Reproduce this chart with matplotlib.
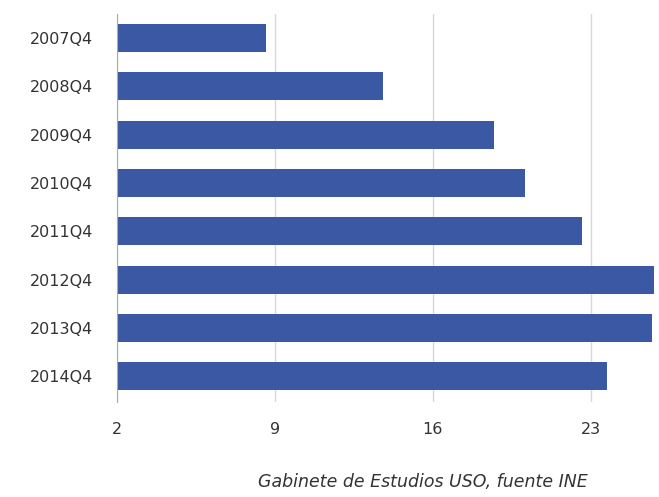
import matplotlib
matplotlib.use("Agg")
import matplotlib.pyplot as plt

# Tasa de paro, cuarto trimestre de cada año
periods = ["2007Q4", "2008Q4", "2009Q4", "2010Q4", "2011Q4", "2012Q4", "2013Q4", "2014Q4"]
rates = [8.6, 13.8, 18.7, 20.1, 22.6, 25.8, 25.7, 23.7]
x_ticks = [2, 9, 16, 23]

fig = plt.figure(figsize=(6.59, 4.97), dpi=100)
ax = fig.add_axes([0.1775, 0.191, 0.8165, 0.781])

ypos = list(range(len(periods)))
ax.barh(ypos, [r - 2 for r in rates], left=2, height=0.58, color="#3a58a4")

ax.set_xlim(2, 25.85)
ax.set_ylim(len(periods) - 0.5 + 0.03, -0.5)
ax.set_yticks(ypos)
ax.set_yticklabels(periods)
ax.set_xticks(x_ticks)
ax.set_xticklabels([str(t) for t in x_ticks])

ax.grid(axis="x", color="#d8d8d8", linewidth=1)
ax.set_axisbelow(True)
for side in ["top", "right", "bottom"]:
    ax.spines[side].set_visible(False)
ax.spines["left"].set_color("#aaaaaa")
ax.tick_params(axis="both", length=0, labelsize=11.5, labelcolor="#333333")
ax.tick_params(axis="y", pad=17)
ax.tick_params(axis="x", pad=14)

fig.text(0.642, 0.02, "Gabinete de Estudios USO, fuente INE", ha="center",
         fontsize=12.5, style="italic", color="#333333")

fig.savefig("out.png", dpi=100)
